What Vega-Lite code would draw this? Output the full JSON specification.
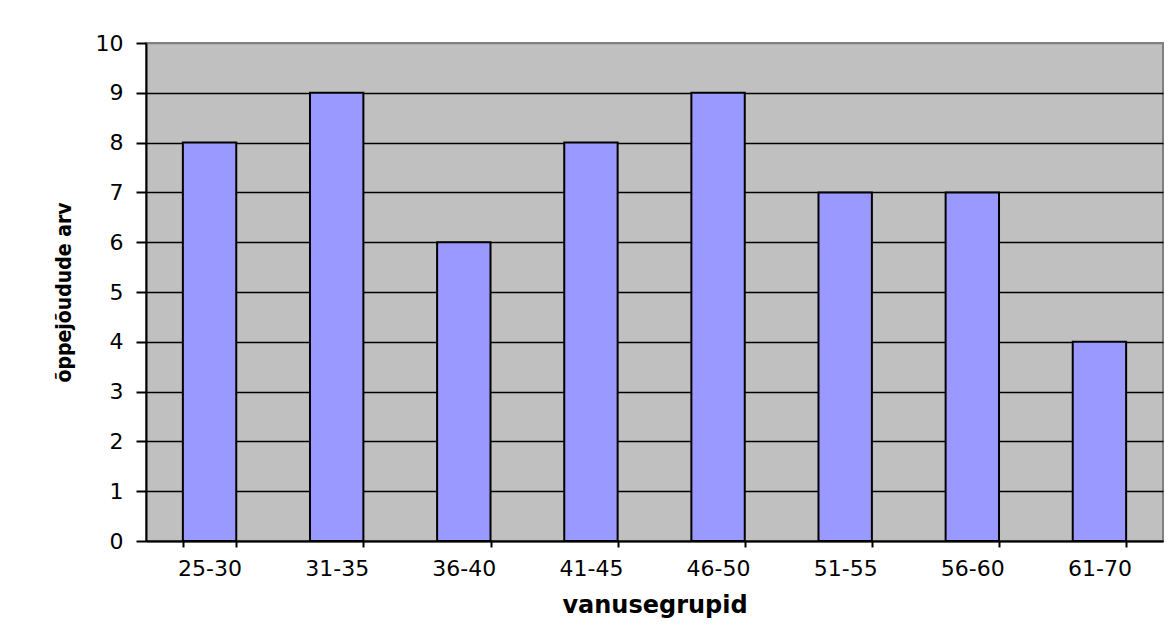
{
  "$schema": "https://vega.github.io/schema/vega-lite/v6.json",
  "autosize": "none",
  "width": 1017,
  "height": 498,
  "padding": {"left": 146, "top": 43, "right": 7, "bottom": 95},
  "background": "white",
  "data": {
    "values": [
      {"vanusegrupp": "25-30", "arv": 8},
      {"vanusegrupp": "31-35", "arv": 9},
      {"vanusegrupp": "36-40", "arv": 6},
      {"vanusegrupp": "41-45", "arv": 8},
      {"vanusegrupp": "46-50", "arv": 9},
      {"vanusegrupp": "51-55", "arv": 7},
      {"vanusegrupp": "56-60", "arv": 7},
      {"vanusegrupp": "61-70", "arv": 4}
    ]
  },
  "mark": {"type": "bar", "fill": "#9999FF", "stroke": "black", "strokeWidth": 2},
  "encoding": {
    "x": {
      "field": "vanusegrupp",
      "type": "nominal",
      "sort": null,
      "scale": {"paddingInner": 0.58, "paddingOuter": 0.29},
      "axis": {
        "title": "vanusegrupid",
        "titleFont": "DejaVu Sans",
        "titleFontSize": 24,
        "titleFontWeight": "bold",
        "titleColor": "black",
        "titlePadding": 14,
        "labelAngle": 0,
        "labelFont": "DejaVu Sans",
        "labelFontSize": 22,
        "labelColor": "black",
        "labelPadding": 11,
        "tickBand": "extent",
        "tickSize": 6,
        "tickColor": "black",
        "tickWidth": 2,
        "domainColor": "black",
        "domainWidth": 2,
        "grid": false
      }
    },
    "y": {
      "field": "arv",
      "type": "quantitative",
      "scale": {"domain": [0, 10], "nice": false},
      "axis": {
        "title": "õppejõudude arv",
        "titleFont": "Liberation Sans Narrow, DejaVu Sans Condensed, Liberation Sans",
        "titleFontSize": 21,
        "titleFontWeight": "bold",
        "titleColor": "black",
        "titlePadding": 21,
        "values": [0, 1, 2, 3, 4, 5, 6, 7, 8, 9, 10],
        "labelFont": "DejaVu Sans",
        "labelFontSize": 22,
        "labelColor": "black",
        "labelPadding": 13,
        "tickSize": 10,
        "tickColor": "black",
        "tickWidth": 2,
        "domainColor": "black",
        "domainWidth": 2,
        "grid": true,
        "gridColor": {"condition": {"test": "datum.value === 10", "value": "#808080"}, "value": "black"},
        "gridWidth": 1.5,
        "gridOpacity": 1
      }
    }
  },
  "config": {
    "view": {"fill": "#C0C0C0", "stroke": "#808080", "strokeWidth": 2}
  }
}
